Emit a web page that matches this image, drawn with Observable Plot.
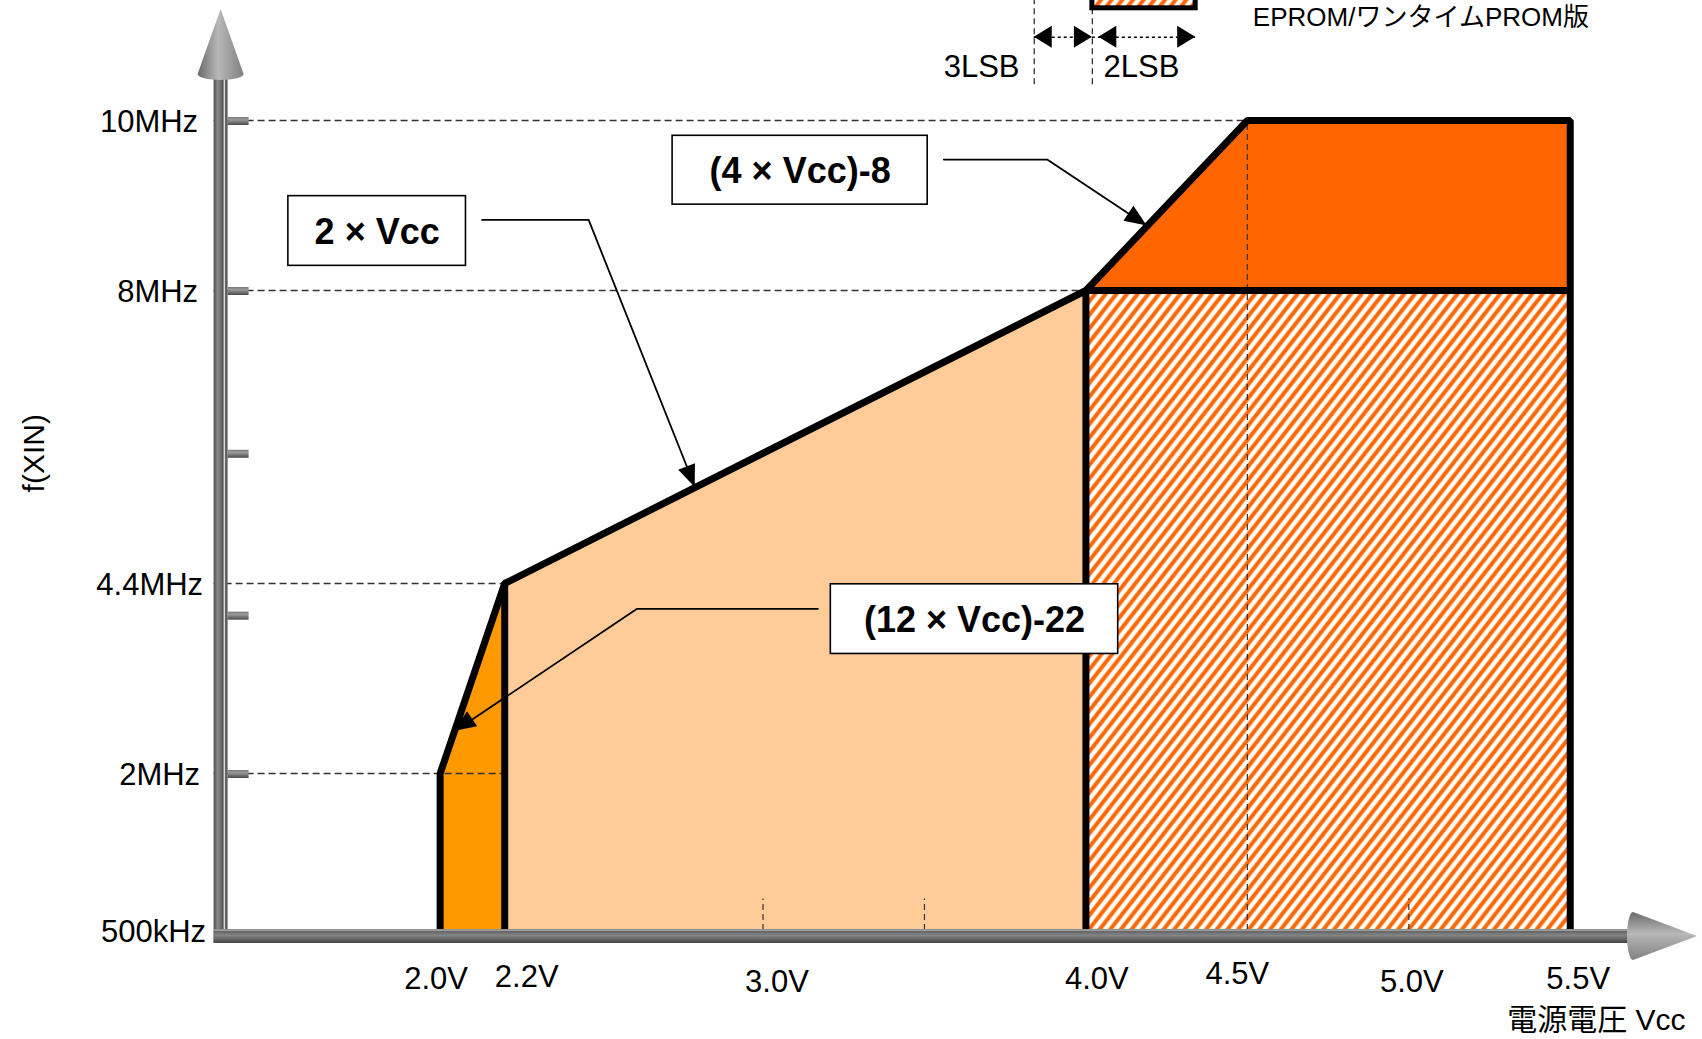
<!DOCTYPE html>
<html><head><meta charset="utf-8">
<script src="https://cdn.jsdelivr.net/npm/d3@7"></script>
<script src="https://cdn.jsdelivr.net/npm/@observablehq/plot@0.6"></script>
<style>html,body{margin:0;padding:0;background:#fff;overflow:hidden} svg{display:block}</style>
</head><body>
<script>
// ---------------- data ----------------
const vccTicks = [2.0, 2.2, 3.0, 4.0, 4.5, 5.0, 5.5];
const vccTickLabels = ["2.0V", "2.2V", "3.0V", "4.0V", "4.5V", "5.0V", "5.5V"];
const vccMinorTicks = [3.0, 3.5, 5.0];
const freqTicks = [0.5, 2, 4.4, 8, 10];
const freqTickLabels = ["500kHz", "2MHz", "4.4MHz", "8MHz", "10MHz"];
const freqStubTicks = [2, 4, 6, 8, 10];

// operating-area boundary: Vcc [V] vs f(XIN) [MHz]
const boundaryVcc  = [2.0, 2.0, 2.2, 4.0, 4.5, 5.5, 5.5];
const boundaryFreq = [0.5, 2.0, 4.4, 8.0, 10.0, 10.0, 0.5];

// regions (x = Vcc, top = f)
const regionLowVcc   = [2.0, 2.2];       const regionLowTop   = [2.0, 4.4];        // (12×Vcc)-22
const regionMidVcc   = [2.2, 4.0];       const regionMidTop   = [4.4, 8.0];        // 2×Vcc
const regionEpromVcc = [4.0, 5.5];       const regionEpromTop = [8.0, 8.0];        // EPROM / OTP
const regionHighVcc  = [4.0, 4.5, 5.5];  const regionHighTop  = [8.0, 10.0, 10.0]; // (4×Vcc)-8
const regionHighBase = 8.0;
const freqFloor = 0.5;

// formula call-outs
const formulaLabels  = ["2 × Vcc", "(4 × Vcc)-8", "(12 × Vcc)-22"];
const formulaBoxVcc  = [[1.53, 2.08], [2.72, 3.51], [3.21, 4.10]];
const formulaBoxFreq = [[8.29, 9.11], [9.01, 9.82], [3.51, 4.39]];
const leaderVcc  = [[2.13, 2.46, 2.79], [3.56, 3.88, 4.19], [3.17, 2.61, 2.044]];
const leaderFreq = [[8.83, 8.83, 5.58], [9.54, 9.54, 8.76], [4.08, 4.08, 2.53]];

// top legend fragment
const lsbEdges = [3.84, 4.02, 4.34];
const lsbLabels = ["3LSB", "2LSB"];
const lsbLabelVcc = [3.677, 4.172];
const legendText = "EPROM/ワンタイムPROM版";
const legendTextVcc = 4.517;
const yLabel = "f(XIN)";
const xLabel = "電源電圧 Vcc";

// ---------------- scales ----------------
const xDomain = [1.3, 5.9];
const xRange = [213.6, 1698.9];
// the frequency axis of the original is not to scale: piecewise-linear knots
const yKnots = [0.5, 2, 4.4, 8, 10];
const yKnotPos = [930, 773, 583, 290, 120];
const freqToPos = d3.scaleLinear(yKnots, yKnotPos);

// ---------------- styles ----------------
const FONT = "'Liberation Sans', Arial, 'Noto Sans CJK JP', sans-serif";
const dash = {stroke: "#333", strokeWidth: 1.4, strokeDasharray: "7,4"};
const xLabelShift = {"2.0V": [-4, 49], "2.2V": [22, 47], "3.0V": [14, 52], "4.0V": [11, 49], "4.5V": [-10, 44], "5.0V": [3, 52], "5.5V": [8, 49]};
const yLabelShift = {"500kHz": -8, "2MHz": -14, "4.4MHz": -11, "8MHz": -16, "10MHz": -16};

// defs: hatch pattern + gradients
const defsMark = () => {
  const defs = d3.create("svg:defs");
  const p = defs.append("pattern").attr("id", "eprom-hatch").attr("patternUnits", "userSpaceOnUse")
    .attr("width", 8.4).attr("height", 20).attr("patternTransform", "rotate(38)");
  p.append("rect").attr("width", 8.4).attr("height", 20).attr("fill", "#fff");
  p.append("rect").attr("x", 0.3).attr("width", 4.0).attr("height", 20).attr("fill", "#FF6600");
  const grad = (id, vertical, stops) => {
    const g = defs.append("linearGradient").attr("id", id)
      .attr("x1", 0).attr("y1", 0).attr("x2", vertical ? 0 : 1).attr("y2", vertical ? 1 : 0);
    for (const [o, c] of stops) g.append("stop").attr("offset", o).attr("stop-color", c);
  };
  grad("g-axis-v", false, [[0, "#4e4e4e"], [0.3, "#8c8c8c"], [0.62, "#5a5a5a"], [0.7, "#5a5a5a"], [0.72, "#dcdcdc"], [0.79, "#dcdcdc"], [0.81, "#6c6c6c"], [1, "#555"]]);
  grad("g-axis-h", true, [[0, "#6a6a6a"], [0.08, "#bdbdbd"], [0.16, "#646464"], [0.45, "#858585"], [1, "#444"]]);
  grad("g-stub", true, [[0, "#7a7a7a"], [0.35, "#9a9a9a"], [1, "#4a4a4a"]]);
  grad("g-cone-v", false, [[0, "#6a6a6a"], [0.45, "#b8b8b8"], [1, "#808080"]]);
  grad("g-cone-h", true, [[0, "#6a6a6a"], [0.45, "#b8b8b8"], [1, "#808080"]]);
  return defs.node();
};

// custom axis (grey bars, stubs, cone arrowheads) drawn through the scales
const axesMark = (index, scales, values, dims) => {
  const X = scales.x, Y = f => scales.y(freqToPos(f));
  const g = d3.create("svg:g");
  const barW = 14;
  const left = X(xDomain[0]);
  const base = Y(freqFloor) - 1;
  const cx = left + barW / 2, cy = base + barW / 2;
  const coneTip = 9, coneBase = 74, coneHalf = 23;
  const xTip = dims.width - 5, xBase = xTip - 64;
  g.append("rect").attr("x", left).attr("y", coneBase + 1).attr("width", barW)
    .attr("height", base + barW - coneBase - 1).attr("fill", "url(#g-axis-v)");
  g.append("rect").attr("x", left).attr("y", base).attr("width", xBase - left + 2)
    .attr("height", barW).attr("fill", "url(#g-axis-h)");
  for (const f of freqStubTicks)
    g.append("rect").attr("x", left + barW).attr("y", Y(f) - 3).attr("width", 21).attr("height", 8).attr("fill", "url(#g-stub)");
  g.append("path").attr("d", `M${cx},${coneTip}L${cx + coneHalf},${coneBase}A${coneHalf},6 0 0 1 ${cx - coneHalf},${coneBase}Z`).attr("fill", "url(#g-cone-v)");
  g.append("path").attr("d", `M${xTip},${cy}L${xBase},${cy + 24}A6,24 0 0 1 ${xBase},${cy - 24}Z`).attr("fill", "url(#g-cone-h)");
  return g.node();
};

// filled triangular arrowheads, oriented with the scales
const arrowHeads = (arrows, len, half) => (index, scales) => {
  const g = d3.create("svg:g");
  for (const a of arrows) {
    const x0 = scales.x(a.from[0]), y0 = scales.y(freqToPos(a.from[1]));
    const x1 = scales.x(a.to[0]), y1 = scales.y(freqToPos(a.to[1]));
    const t = Math.atan2(y1 - y0, x1 - x0);
    const bx = x1 - len * Math.cos(t), by = y1 - len * Math.sin(t);
    const nx = -Math.sin(t) * half, ny = Math.cos(t) * half;
    g.append("path").attr("d", `M${x1},${y1}L${bx + nx},${by + ny}L${bx - nx},${by - ny}Z`).attr("fill", "#000");
  }
  return g.node();
};

const leaderArrows = leaderVcc.map((vs, i) => ({from: [vs[1], leaderFreq[i][1]], to: [vs[2], leaderFreq[i][2]]}));
const dimY = 10.98;
const dimArrows = [
  {from: [(lsbEdges[0] + lsbEdges[1]) / 2, dimY], to: [lsbEdges[0], dimY]},
  {from: [(lsbEdges[0] + lsbEdges[1]) / 2, dimY], to: [lsbEdges[1], dimY]},
  {from: [(lsbEdges[1] + lsbEdges[2]) / 2, dimY], to: [lsbEdges[1] + 0.02, dimY]},
  {from: [(lsbEdges[1] + lsbEdges[2]) / 2, dimY], to: [lsbEdges[2], dimY]}
];

const area = (xs, tops, base, fill) =>
  Plot.areaY(xs.map((v, i) => ({v, top: tops[i]})), {x: "v", y1: base, y2: "top", fill});

const chart = Plot.plot({
  width: 1702, height: 1039,
  marginTop: 0, marginRight: 0, marginBottom: 0, marginLeft: 0,
  x: {domain: xDomain, range: xRange, axis: null},
  y: {transform: freqToPos, domain: [0, 1039], range: [0, 1039], axis: null},
  style: {fontFamily: FONT, background: "#fff", color: "#000", overflow: "hidden"},
  marks: [
    defsMark,
    // filled regions
    area(regionLowVcc, regionLowTop, freqFloor, "#FF9900"),
    area(regionMidVcc, regionMidTop, freqFloor, "#FFCC99"),
    area(regionEpromVcc, regionEpromTop, freqFloor, "url(#eprom-hatch)"),
    area(regionHighVcc, regionHighTop, regionHighBase, "#FF6600"),
    // dashed guides
    Plot.ruleY([10], {x1: xDomain[0], x2: 4.5, ...dash}),
    Plot.ruleY([8], {x1: xDomain[0], x2: 4.0, ...dash}),
    Plot.ruleY([4.4], {x1: xDomain[0], x2: 2.2, ...dash}),
    Plot.ruleY([2], {x1: xDomain[0], x2: 2.2, ...dash}),
    Plot.ruleX([4.5], {y1: freqFloor, y2: 10, stroke: "#333", strokeWidth: 1.2, strokeDasharray: "6,4"}),
    Plot.ruleX(vccMinorTicks, {y1: freqFloor, y2: 0.8, stroke: "#333", strokeWidth: 1.2, strokeDasharray: "6,4"}),
    // boundary
    Plot.line(boundaryVcc.map((v, i) => [v, boundaryFreq[i]]), {stroke: "#000", strokeWidth: 7, strokeLinejoin: "miter", strokeLinecap: "butt"}),
    Plot.ruleX([2.2], {y1: freqFloor, y2: 4.4, stroke: "#000", strokeWidth: 7}),
    Plot.ruleX([4.0], {y1: freqFloor, y2: 8, stroke: "#000", strokeWidth: 7}),
    Plot.ruleY([8], {x1: 4.0, x2: 5.5, stroke: "#000", strokeWidth: 7}),
    // axes
    axesMark,
    ...freqTicks.map((f, i) => Plot.text([freqTickLabels[i]], {x: xDomain[0], y: f, text: d => d, textAnchor: "end", dx: yLabelShift[freqTickLabels[i]], dy: 2, fontSize: 31})),
    ...vccTicks.map((v, i) => Plot.text([vccTickLabels[i]], {x: v, y: freqFloor, text: d => d, dx: xLabelShift[vccTickLabels[i]][0], dy: xLabelShift[vccTickLabels[i]][1], fontSize: 31})),
    Plot.text([yLabel], {x: 0.744, y: 6, text: d => d, rotate: -90, fontSize: 30}),
    Plot.text([xLabel], {x: 5.857, y: freqFloor, text: d => d, textAnchor: "end", dy: 90, fontSize: 30}),
    // formula boxes and leaders
    Plot.rect(formulaLabels, {x1: (d, i) => formulaBoxVcc[i][0], x2: (d, i) => formulaBoxVcc[i][1], y1: (d, i) => formulaBoxFreq[i][0], y2: (d, i) => formulaBoxFreq[i][1], fill: "#fff", stroke: "#000", strokeWidth: 1.6}),
    Plot.text(formulaLabels, {x: (d, i) => (formulaBoxVcc[i][0] + formulaBoxVcc[i][1]) / 2, y: (d, i) => (formulaBoxFreq[i][0] + formulaBoxFreq[i][1]) / 2, text: d => d, fontSize: 36, fontWeight: "bold", dy: 1}),
    ...leaderVcc.map((vs, i) => Plot.line(vs.map((v, j) => [v, leaderFreq[i][j]]), {stroke: "#000", strokeWidth: 1.8, strokeLinejoin: "miter"})),
    arrowHeads(leaderArrows, 22, 9),
    // top legend fragment
    Plot.ruleX(lsbEdges.slice(0, 2), {y1: 10.42, y2: 12, stroke: "#333", strokeWidth: 1.3, strokeDasharray: "6,4"}),
    Plot.ruleY([dimY], {x1: lsbEdges[0], x2: lsbEdges[1], stroke: "#000", strokeWidth: 1.5, strokeDasharray: "3,3"}),
    Plot.ruleY([dimY], {x1: lsbEdges[1], x2: lsbEdges[2], stroke: "#000", strokeWidth: 1.5, strokeDasharray: "3,3"}),
    arrowHeads(dimArrows, 18, 11),
    Plot.text(lsbLabels, {x: (d, i) => lsbLabelVcc[i], y: 10.63, text: d => d, fontSize: 31}),
    Plot.rect([0], {x1: lsbEdges[1], x2: lsbEdges[2], y1: 11.32, y2: 12.5, fill: "url(#eprom-hatch)", stroke: "#000", strokeWidth: 5}),
    Plot.text([legendText], {x: legendTextVcc, y: 11.21, text: d => d, textAnchor: "start", fontSize: 26})
  ]
});
document.body.appendChild(chart);
</script>
</body></html>
